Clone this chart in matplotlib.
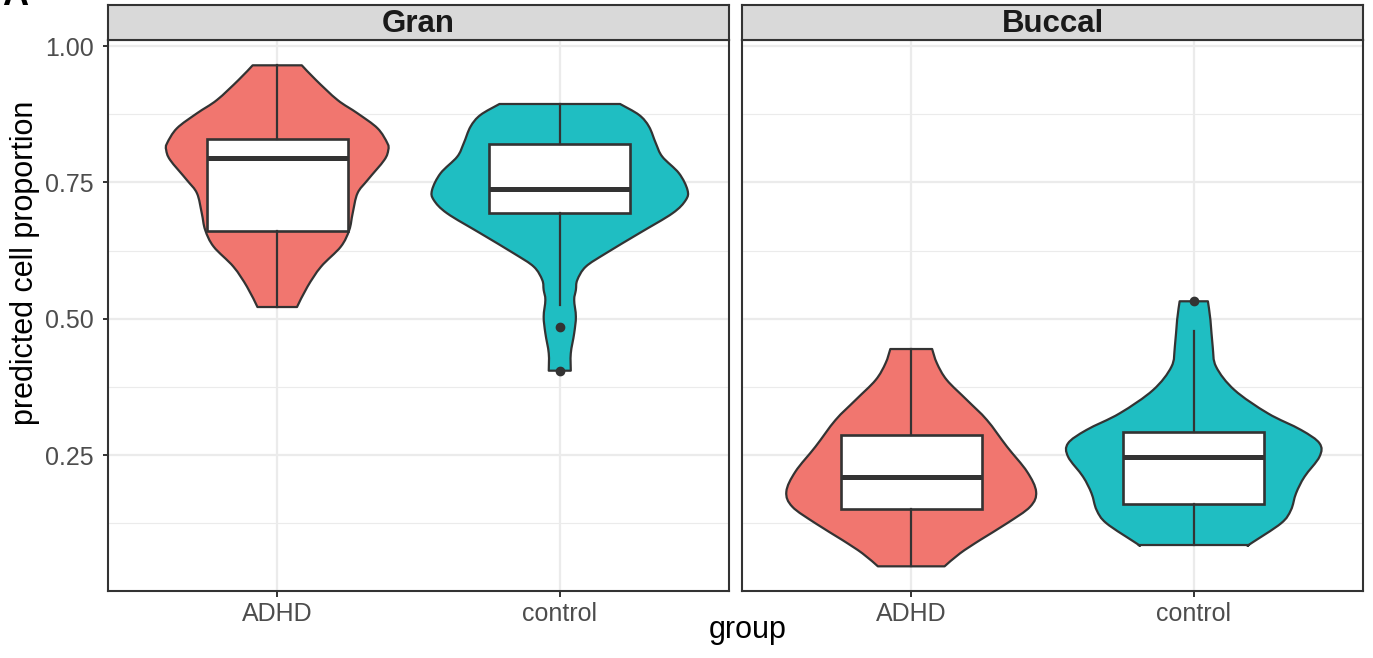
import numpy as np
import matplotlib
matplotlib.use("Agg")
import matplotlib.pyplot as plt
from matplotlib.path import Path
from matplotlib.patches import PathPatch

plt.rcParams['font.family'] = ['Liberation Sans', 'DejaVu Sans']

# ---------------- data ----------------
facets = ["Gran", "Buccal"]
groups = ["ADHD", "control"]
group_colors = ["#F1766F", "#1FBEC2"]

# violin density profiles: y levels and half-widths (category units)
gran_adhd_y = [0.9646, 0.9377, 0.9010, 0.8767, 0.8492, 0.8217, 0.8094, 0.7911,
               0.7544, 0.7300, 0.6934, 0.6628, 0.6322, 0.5955, 0.5588, 0.5216]
gran_adhd_hw = [0.087, 0.137, 0.2135, 0.284, 0.355, 0.390, 0.393, 0.379,
                0.320, 0.284, 0.267, 0.255, 0.225, 0.155, 0.107, 0.070]

gran_control_y = [0.8937, 0.8735, 0.8521, 0.8217, 0.7971, 0.7667, 0.7361, 0.7177,
                  0.6934, 0.6567, 0.6200, 0.5955, 0.5711, 0.5528, 0.5345, 0.5038,
                  0.4734, 0.4368, 0.4049]
gran_control_hw = [0.2135, 0.281, 0.316, 0.340, 0.363, 0.422, 0.452, 0.446,
                   0.399, 0.281, 0.163, 0.092, 0.062, 0.057, 0.051, 0.057,
                   0.051, 0.039, 0.039]

buccal_adhd_y = [0.4446, 0.4184, 0.3878, 0.3512, 0.3145, 0.2656, 0.2198, 0.1831,
                 0.1556, 0.1252, 0.0946, 0.0702, 0.0463]
buccal_adhd_hw = [0.074, 0.091, 0.126, 0.197, 0.268, 0.339, 0.410, 0.442,
                  0.421, 0.339, 0.244, 0.173, 0.118]

buccal_control_y = [0.5321, 0.4978, 0.4489, 0.4122, 0.3695, 0.3268, 0.2962, 0.2718,
                    0.2473, 0.2106, 0.1802, 0.1496, 0.1252, 0.0885, 0.0854]
buccal_control_hw = [0.050, 0.059, 0.067, 0.079, 0.144, 0.262, 0.380, 0.445,
                     0.445, 0.392, 0.362, 0.344, 0.309, 0.203, 0.195]

# box statistics: q1, median, q3, lower whisker, upper whisker, outliers
gran_adhd_box = dict(q1=0.6615, med=0.7947, q3=0.8300, whislo=0.5216, whishi=0.9646, fliers=[])
gran_control_box = dict(q1=0.6934, med=0.7379, q3=0.8204, whislo=0.5253, whishi=0.8937, fliers=[0.4855, 0.4050])
buccal_adhd_box = dict(q1=0.1508, med=0.2095, q3=0.2864, whislo=0.0463, whishi=0.4446, fliers=[])
buccal_control_box = dict(q1=0.1611, med=0.2467, q3=0.2931, whislo=0.0854, whishi=0.4782, fliers=[0.5320])

violins = {
    "Gran": [(gran_adhd_y, gran_adhd_hw), (gran_control_y, gran_control_hw)],
    "Buccal": [(buccal_adhd_y, buccal_adhd_hw), (buccal_control_y, buccal_control_hw)],
}
boxes = {
    "Gran": [gran_adhd_box, gran_control_box],
    "Buccal": [buccal_adhd_box, buccal_control_box],
}

y_ticks = [0.25, 0.50, 0.75, 1.00]
y_ticklabels = ["0.25", "0.50", "0.75", "1.00"]
y_minor = [0.125, 0.375, 0.625, 0.875]

# ---------------- helpers ----------------
W, H = 1373, 658
DARK = "#333333"


def rect(x0, y0, x1, y1):
    return [x0 / W, 1 - y1 / H, (x1 - x0) / W, (y1 - y0) / H]


def cr_segments(P):
    """Catmull-Rom -> cubic bezier control points along polyline P."""
    verts = []
    n = len(P)
    for i in range(n - 1):
        prev = P[i - 1] if i > 0 else P[i]
        nxt = P[i + 2] if i + 2 < n else P[i + 1]
        c1 = P[i] + (P[i + 1] - prev) / 6.0
        c2 = P[i + 1] - (nxt - P[i]) / 6.0
        verts += [c1, c2, P[i + 1]]
    return verts


def violin_path(pos, ys, hws):
    ys = np.asarray(ys, float)
    hws = np.asarray(hws, float)
    order = np.argsort(ys)
    ys, hws = ys[order], hws[order]
    right = np.column_stack([pos + hws, ys])
    left = np.column_stack([pos - hws, ys])[::-1]
    verts = [right[0]]
    codes = [Path.MOVETO]
    seg = cr_segments(right)
    verts += seg
    codes += [Path.CURVE4] * len(seg)
    verts.append(left[0])
    codes.append(Path.LINETO)
    seg = cr_segments(left)
    verts += seg
    codes += [Path.CURVE4] * len(seg)
    verts.append(right[0])
    codes.append(Path.CLOSEPOLY)
    return Path(np.array(verts), codes)


# ---------------- figure ----------------
fig = plt.figure(figsize=(W / 100, H / 100), dpi=100)

panel_x = [(107.7, 729.3), (741.7, 1363.3)]
panel_top, panel_bot = 40.0, 590.7
strip_top = 5.0

for k, facet in enumerate(facets):
    x0, x1 = panel_x[k]
    ax = fig.add_axes(rect(x0, panel_top, x1, panel_bot))
    ax.set_xlim(0.4, 2.6)
    ax.set_ylim(0.00165, 1.011)
    ax.set_facecolor("white")

    # grid
    for yv in y_minor:
        ax.axhline(yv, color="#EBEBEB", lw=0.8, zorder=0)
    for yv in y_ticks:
        ax.axhline(yv, color="#EBEBEB", lw=1.6, zorder=0)
    for xi in range(len(groups)):
        ax.axvline(xi + 1, color="#EBEBEB", lw=1.6, zorder=0)

    # violins
    for gi, (ys, hws) in enumerate(violins[facet]):
        p = violin_path(gi + 1, ys, hws)
        ax.add_patch(PathPatch(p, facecolor=group_colors[gi], edgecolor=DARK,
                               lw=1.6, zorder=2, joinstyle="round"))

    # boxplots
    stats = [dict(b) for b in boxes[facet]]
    ax.bxp(stats, positions=[1, 2], widths=0.5, showcaps=False, patch_artist=True,
           boxprops=dict(facecolor="white", edgecolor=DARK, linewidth=1.9),
           medianprops=dict(color=DARK, linewidth=3.6, solid_capstyle="butt"),
           whiskerprops=dict(color=DARK, linewidth=1.6),
           flierprops=dict(marker="o", markerfacecolor=DARK, markeredgecolor=DARK,
                           markersize=6, linestyle="none"),
           manage_ticks=False, zorder=3)

    for s in ax.spines.values():
        s.set_color(DARK)
        s.set_linewidth(1.5)
        s.set_zorder(5)

    ax.set_xticks([1, 2])
    ax.set_xticklabels(groups)
    ax.tick_params(axis="x", length=4.2, width=1.4, color=DARK, pad=4,
                   labelsize=18, labelcolor="#4D4D4D")
    if k == 0:
        ax.set_yticks(y_ticks)
        ax.set_yticklabels(y_ticklabels)
        ax.tick_params(axis="y", length=3.8, width=1.4, color=DARK, pad=6.5,
                       labelsize=18, labelcolor="#4D4D4D")
    else:
        ax.set_yticks([])

    # strip
    sax = fig.add_axes(rect(x0, strip_top, x1, panel_top))
    sax.set_facecolor("#D9D9D9")
    sax.set_xticks([])
    sax.set_yticks([])
    for s in sax.spines.values():
        s.set_color(DARK)
        s.set_linewidth(1.5)
    sax.text(0.5, 0.47, facet, transform=sax.transAxes, ha="center", va="center",
             fontsize=22.5, fontweight="bold", color="#1A1A1A")

# axis titles
fig.text(748 / W, 1 - 638 / H, "group", ha="center", va="baseline", fontsize=22,
         color="black")
fig.text(33 / W, 1 - 263 / H, "predicted cell proportion", rotation=90,
         rotation_mode="anchor", ha="center", va="baseline", fontsize=22,
         color="black")
# partially visible panel tag (cut at the top edge, as in the reference)
fig.text(2 / W, 1 - 5 / H, "A", ha="left", va="baseline", fontsize=26,
         fontweight="bold", color="black")

fig.savefig("out.png", dpi=100)
